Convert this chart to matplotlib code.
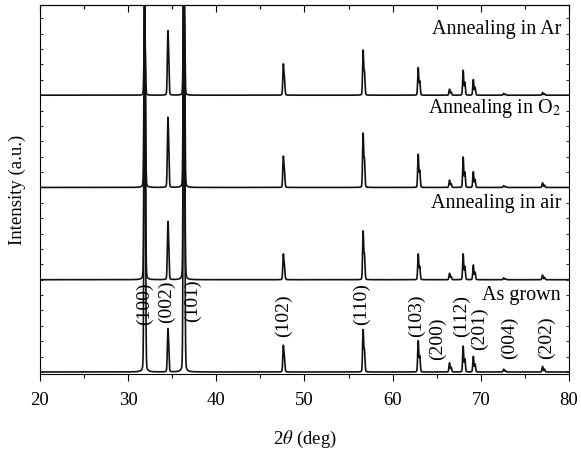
import numpy as np
import matplotlib
matplotlib.use("Agg")
import matplotlib.pyplot as plt
from matplotlib.ticker import MultipleLocator

plt.rcParams['font.family'] = ['Liberation Serif', 'DejaVu Serif']
plt.rcParams['mathtext.fontset'] = 'stix'

# ZnO reflections (2theta, deg) and hkl labels
hkl = ['(100)', '(002)', '(101)', '(102)', '(110)', '(103)',
       '(200)', '(112)', '(201)', '(004)', '(202)']
peak_pos = [31.85, 34.5, 36.3, 47.6, 56.65, 62.9, 66.45, 68.0, 69.15, 72.6, 77.0]

# peak heights (a.u.), one list per sample
h_grown = [4.3, 0.47, 4.6, 0.29, 0.46, 0.34, 0.10, 0.28, 0.17, 0.03, 0.06]
h_air   = [3.3, 0.63, 3.6, 0.28, 0.53, 0.28, 0.07, 0.28, 0.16, 0.02, 0.05]
h_o2    = [2.3, 0.76, 2.6, 0.34, 0.59, 0.36, 0.08, 0.33, 0.17, 0.02, 0.05]
h_ar    = [0.79, 0.70, 1.3, 0.34, 0.49, 0.30, 0.065, 0.27, 0.17, 0.02, 0.03]

samples = ['As grown', 'Annealing in air', 'Annealing in O$_2$', 'Annealing in Ar']
heights = [h_grown, h_air, h_o2, h_ar]

# where the hkl labels sit (data coords)
lab_x = [31.8, 34.3, 37.35, 47.65, 56.5, 62.75, 65.1, 67.85, 69.9, 73.3, 77.5]
lab_y = [0.74, 0.76, 0.77, 0.61, 0.74, 0.61, 0.36, 0.61, 0.47, 0.37, 0.37]
name_y = [0.83, 1.83, 2.86, 3.71]

tth = np.linspace(20, 80, 12001)


def profile(p, g=0.07, eta=0.12):
    # pseudo-Voigt line, Ka1 + Ka2, scaled to unit maximum
    d2 = 2 * np.degrees(np.tan(np.radians(p / 2)) * 0.0025)
    def pv(c):
        u = (tth - c) / g
        return eta / (1 + u ** 2) + (1 - eta) * np.exp(-np.log(2) * u ** 2)
    y = pv(p) + 0.5 * pv(p + d2)
    return y / y.max()


fig = plt.figure(figsize=(5.81, 4.51), dpi=100)
ax = fig.add_axes([0.0688, 0.1707, 0.9105, 0.8183])

for i, h in enumerate(heights):
    y = sum(a * profile(p) for p, a in zip(peak_pos, h))
    ax.plot(tth, y + i, color='#111111', lw=1.2)
    ax.text(79.1, name_y[i], samples[i], ha='right', va='center', fontsize=14.5)

for t, x, y in zip(hkl, lab_x, lab_y):
    ax.text(x, y, t, rotation=90, ha='center', va='center', fontsize=14)

ax.set_xlim(20, 80)
ax.set_ylim(-0.022, 3.978)
ax.xaxis.set_major_locator(MultipleLocator(10))
ax.xaxis.set_minor_locator(MultipleLocator(5))
ax.yaxis.set_major_locator(MultipleLocator(1 / 6))
ax.set_yticklabels([])
ax.tick_params(axis='x', which='major', direction='out', length=5, width=0.8,
               labelsize=13.5, pad=8)
ax.tick_params(axis='x', which='minor', direction='out', length=3, width=0.8)
ax.tick_params(axis='y', which='major', direction='in', length=2.5, width=0.6,
               left=True, right=True, labelleft=False)

top = ax.secondary_xaxis('top')
top.xaxis.set_major_locator(MultipleLocator(10))
top.xaxis.set_minor_locator(MultipleLocator(5))
top.tick_params(which='major', direction='in', length=5, width=0.8, labeltop=False)
top.tick_params(which='minor', direction='in', length=3, width=0.8)

for s in ax.spines.values():
    s.set_linewidth(0.8)

ax.set_xlabel(r'2$\mathit{\theta}$ (deg)', fontsize=13.5, labelpad=14)
ax.set_ylabel('Intensity (a.u.)', fontsize=13.5, labelpad=10)

fig.savefig('out.png', dpi=100)
